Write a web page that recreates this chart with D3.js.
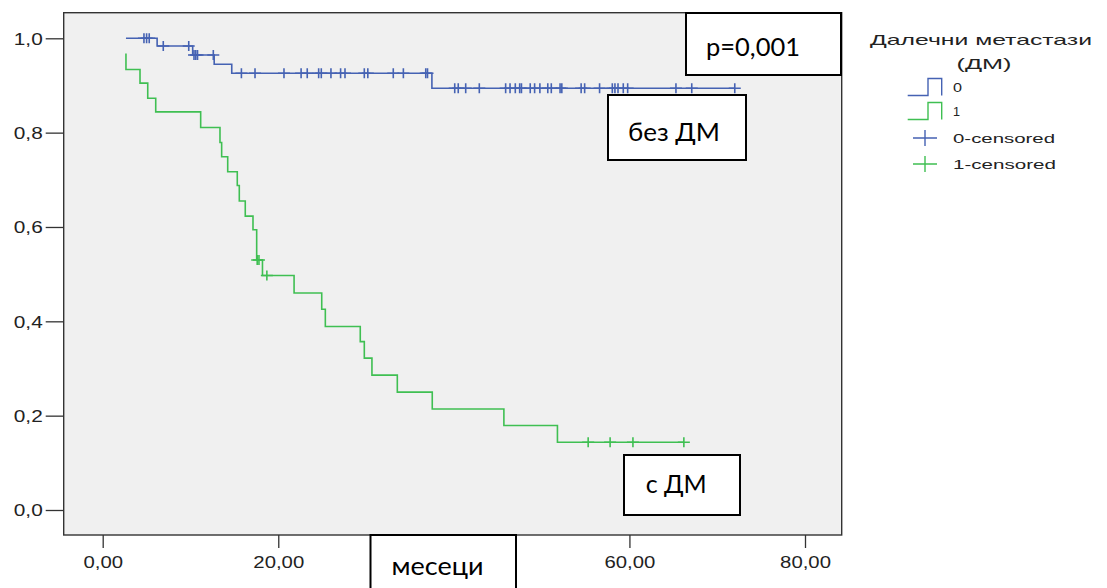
<!DOCTYPE html>
<html>
<head>
<meta charset="utf-8">
<script src="https://d3js.org/d3.v7.min.js"></script>
<style>
body { margin: 0; background: #fff; }
svg { display: block; }
.spss { font-family: "Liberation Sans", Arial, sans-serif; fill: #222; }
.note { font-family: Lato, "Open Sans", sans-serif; fill: #000; }
</style>
</head>
<body>
<svg></svg>
<script>

// axis ticks
var xTicks = [0, 20, 40, 60, 80];
var yTicks = [0, 0.2, 0.4, 0.6, 0.8, 1.0];

// group 0 (no distant metastases): step times and survival after each step
var blueTimes = [2.65, 6.2, 10.25, 12.7, 14.7, 37.5, 72.0];
var blueSurv = [1.0, 0.9837, 0.9646, 0.945, 0.9258, 0.894, 0.894];
var blueCensored = [4.7, 5.0, 5.3, 6.9, 9.8, 10.4, 10.6, 10.8, 12.6, 15.8, 17.35, 20.65, 22.6, 23.3,
	24.6, 24.9, 26.0, 27.1, 27.6, 29.8, 30.2, 33.1, 34.25, 36.8, 37.0, 40.1, 40.5, 41.35, 42.9,
	45.9, 46.4, 47.0, 47.5, 47.7, 48.7, 49.2, 49.8, 50.7, 51.1, 52.1, 52.3, 54.5, 54.9, 56.6,
	58.05, 58.35, 58.7, 59.3, 59.8, 65.3, 67.1, 72.0];

// group 1 (distant metastases)
var greenTimes = [2.65, 2.65, 4.25, 5.13, 6.04, 11.16, 13.36, 13.55, 14.24, 15.33, 15.56, 16.24,
	17.12, 17.54, 18.2, 21.8, 24.95, 25.36, 29.34, 29.8, 30.67, 33.56, 37.54, 45.7, 51.8, 66.2];
var greenSurv = [0.968, 0.934, 0.905, 0.873, 0.844, 0.811, 0.779, 0.749, 0.717, 0.688, 0.655, 0.623,
	0.594, 0.530, 0.497, 0.460, 0.4255, 0.389, 0.357, 0.322, 0.286, 0.250, 0.214, 0.179, 0.1435, 0.1435];
var greenCensored = [17.6, 17.8, 18.7, 55.3, 57.8, 60.4, 66.2];

var legendTitle = ["Далечни метастази", "(ДМ)"];
var legendLabels = ["0", "1", "0-censored", "1-censored"];

var blue = "#4562b3", green = "#3fbf52";

var width = 1107, height = 588,
	svg = d3.select("svg").attr("width", width).attr("height", height);

var x = d3.scaleLinear().domain([0, 80]).range([102.7, 805]),
	y = d3.scaleLinear().domain([0, 1]).range([510, 38.3]);

var frame = {left: 63.7, top: 12.7, right: 841.7, bottom: 535};

//plot background + frame
svg.append("rect")
	.attr("x", frame.left).attr("y", frame.top)
	.attr("width", frame.right - frame.left).attr("height", frame.bottom - frame.top)
	.attr("fill", "#f0f0f0").attr("stroke", "#333").attr("stroke-width", 1.4);

//stretch SPSS-like text horizontally
function stretch(sel, k) {
	sel.each(function() {
		var w = this.getComputedTextLength();
		d3.select(this).attr("textLength", w * k).attr("lengthAdjust", "spacingAndGlyphs");
	});
}

//x axis
var gx = svg.append("g").attr("transform", "translate(0," + frame.bottom + ")")
	.call(d3.axisBottom(x).tickValues(xTicks).tickSize(13)
		.tickFormat(function(d) { return d3.format(".2f")(d).replace(".", ","); }));
gx.select(".domain").remove();
gx.selectAll("line").attr("stroke", "#333").attr("stroke-width", 1.3);
gx.selectAll("text").attr("class", "spss").attr("y", 33).attr("dy", null)
	.style("font-size", "16px").call(stretch, 1.27);
//the 40 label sits under the "месеци" box
gx.selectAll("text").filter(function(d) { return d === 40; }).remove();

//y axis
var gy = svg.append("g").attr("transform", "translate(" + frame.left + ",0)")
	.call(d3.axisLeft(y).tickValues(yTicks).tickSize(18).tickPadding(3)
		.tickFormat(function(d) { return d3.format(".1f")(d).replace(".", ","); }));
gy.select(".domain").remove();
gy.selectAll("line").attr("stroke", "#333").attr("stroke-width", 1.3);
gy.selectAll("text").attr("class", "spss").attr("dy", "0.36em")
	.style("font-size", "16px").call(stretch, 1.3);

//curves
var line = d3.line().curve(d3.curveStepAfter)
	.x(function(d) { return x(d[0]); }).y(function(d) { return y(d[1]); });

function survAt(times, surv, t) {
	var s = surv[0];
	for (var i = 0; i < times.length; i++) if (times[i] <= t) s = surv[i];
	return s;
}

var groups = [
	{times: blueTimes, surv: blueSurv, cens: blueCensored, color: blue},
	{times: greenTimes, surv: greenSurv, cens: greenCensored, color: green}
];

groups.forEach(function(g) {
	svg.append("path")
		.datum(d3.zip(g.times, g.surv))
		.attr("d", line)
		.attr("fill", "none").attr("stroke", g.color).attr("stroke-width", 1.6);
	svg.append("g").selectAll("path").data(g.cens)
		.enter().append("path")
		.attr("transform", function(t) { return "translate(" + x(t) + "," + y(survAt(g.times, g.surv, t)) + ")"; })
		.attr("d", "M-6,0H6M0,-5V5")
		.attr("fill", "none").attr("stroke", g.color).attr("stroke-width", 1.6);
});

//legend
var lg = svg.append("g");
lg.append("text").attr("class", "spss").attr("x", 870).attr("y", 45)
	.style("font-size", "15px").attr("textLength", 222).attr("lengthAdjust", "spacingAndGlyphs")
	.text(legendTitle[0]);
lg.append("text").attr("class", "spss").attr("x", 984).attr("y", 69).attr("text-anchor", "middle")
	.style("font-size", "15px").attr("textLength", 55).attr("lengthAdjust", "spacingAndGlyphs")
	.text(legendTitle[1]);

var rowY = [87, 111, 138, 164],
	rowLen = [9, 7, 102, 103],
	rowColor = [blue, green, blue, green];

legendLabels.forEach(function(lab, i) {
	var cy = rowY[i];
	if (i < 2) {
		lg.append("path")
			.attr("d", "M907.7," + (cy + 8.5) + "H928V" + (cy - 8.5) + "H941.7V" + (cy + 8.5))
			.attr("fill", "none").attr("stroke", rowColor[i]).attr("stroke-width", 1.4);
	} else {
		lg.append("path")
			.attr("d", "M913," + cy + "H937M925," + (cy - 8) + "V" + (cy + 8))
			.attr("fill", "none").attr("stroke", rowColor[i]).attr("stroke-width", 1.4);
	}
	lg.append("text").attr("class", "spss").attr("x", 953).attr("y", cy + 5)
		.style("font-size", "13px").attr("textLength", rowLen[i]).attr("lengthAdjust", "spacingAndGlyphs")
		.text(lab);
});

//annotation boxes
var notes = [
	{text: "p=0,001", bx: 686, by: 13, bw: 155, bh: 62, tx: 706, ty: 56, tl: 94},
	{text: "без ДМ", bx: 608, by: 95, bw: 138, bh: 65, tx: 628, ty: 141, tl: 92},
	{text: "с ДМ", bx: 624, by: 455, bw: 116, bh: 60, tx: 645.7, ty: 493, tl: 61},
	{text: "месеци", bx: 370.5, by: 535, bw: 145.5, bh: 60, tx: 391.6, ty: 575, tl: 92}
];

var ng = svg.append("g").selectAll("g").data(notes).enter().append("g");
ng.append("rect")
	.attr("x", function(d) { return d.bx; }).attr("y", function(d) { return d.by; })
	.attr("width", function(d) { return d.bw; }).attr("height", function(d) { return d.bh; })
	.attr("fill", "#fff").attr("stroke", "#000").attr("stroke-width", 2);
ng.append("text").attr("class", "note")
	.attr("x", function(d) { return d.tx; }).attr("y", function(d) { return d.ty; })
	.style("font-size", "25px")
	.attr("textLength", function(d) { return d.tl; }).attr("lengthAdjust", "spacingAndGlyphs")
	.text(function(d) { return d.text; });

</script>
</body>
</html>
